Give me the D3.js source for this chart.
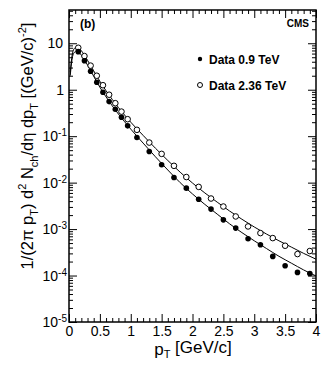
<!DOCTYPE html>
<html>
<head>
<meta charset="utf-8">
<script src="https://cdn.jsdelivr.net/npm/d3@7"></script>
<style>
  body { margin: 0; background: #fff; }
  svg { display: block; font-family: "Liberation Sans", Arial, sans-serif; }
  .axis path { display: none; }
  .axis line { stroke: #000; stroke-width: 1; }
  .axis text { fill: #000; font-size: 14px; }
</style>
</head>
<body>
<svg id="chart" width="322" height="365"></svg>
<script>
// measured points
const ptBins = [0.15, 0.25, 0.35, 0.45, 0.55, 0.65, 0.75, 0.85, 0.95,
  1.1, 1.3, 1.5, 1.7, 1.9, 2.1, 2.3, 2.5, 2.7, 2.9, 3.1, 3.3, 3.5, 3.7, 3.9];
const yield09 = [6.6, 4.2, 2.5, 1.45, 0.88, 0.555, 0.381, 0.256, 0.167,
  0.0933, 0.0467, 0.0242, 0.0129, 0.0076, 0.0044, 0.00269, 0.00158, 0.00105,
  0.000618, 0.000459, 0.000258, 0.000163, 0.000117, 0.000111];
const yield236 = [8.0, 5.3, 3.3, 2.0, 1.25, 0.78, 0.513, 0.338, 0.232,
  0.137, 0.0728, 0.0416, 0.0230, 0.0132, 0.0081, 0.00455, 0.00306, 0.00187,
  0.00114, 0.00082, 0.00064, 0.000438, 0.00029, 0.000337];

// fit curves
const fitPt = [0.02, 0.05, 0.08, 0.12, 0.15, 0.2, 0.3, 0.4, 0.5, 0.6, 0.7, 0.8, 0.9, 1.0,
  1.2, 1.4, 1.6, 1.8, 2.0, 2.2, 2.4, 2.6, 2.8, 3.0, 3.2, 3.4, 3.6, 3.8, 4.0];
const fit09 = [2.0, 4.6, 6.2, 6.8, 6.6, 5.5, 3.4, 1.95, 1.13, 0.70, 0.45, 0.30, 0.205, 0.142,
  0.071, 0.036, 0.0187, 0.0100, 0.0057, 0.0034, 0.0021, 0.0013, 0.00084, 0.00056,
  0.00038, 0.00026, 0.000185, 0.000132, 0.000098];
const fit236 = [2.4, 5.5, 7.5, 8.3, 8.1, 6.9, 4.3, 2.55, 1.52, 0.95, 0.62, 0.415, 0.285, 0.200,
  0.104, 0.055, 0.030, 0.0168, 0.0098, 0.0060, 0.0038, 0.00245, 0.00163, 0.00111,
  0.00078, 0.00056, 0.00041, 0.00030, 0.000225];

const xMajor = [0, 0.5, 1, 1.5, 2, 2.5, 3, 3.5, 4];
const xLabels = ["0", "0.5", "1", "1.5", "2", "2.5", "3", "3.5", "4"];
const yDecades = [1e-5, 1e-4, 1e-3, 1e-2, 1e-1, 1, 10];
const yExponents = [-5, -4, -3, -2, -1, 0, 1];
const legendLabels = ["Data 0.9 TeV", "Data 2.36 TeV"];

const plotL = 69, plotR = 316, plotT = 10, plotB = 322;

const svg = d3.select("#chart");

const x = d3.scaleLinear().domain([0, 4]).range([plotL, plotR]);
const y = d3.scaleLog().domain([1e-5, 52]).range([plotB, plotT]);

const xMinor = d3.range(0, 41).map(i => i / 10).filter(v => !xMajor.includes(v));
let yMinor = [];
yDecades.forEach(d => { for (let k = 2; k <= 9; k++) if (d * k <= 52) yMinor.push(d * k); });

// clip for the curves
svg.append("clipPath").attr("id", "clip")
  .append("rect").attr("x", plotL).attr("y", plotT)
  .attr("width", plotR - plotL).attr("height", plotB - plotT);

// x axes (bottom with labels, top ticks only)
svg.append("g").attr("class", "axis")
  .attr("transform", `translate(0,${plotB})`)
  .call(d3.axisBottom(x).tickValues(xMajor).tickSize(-8).tickPadding(4)
    .tickFormat((d, i) => xLabels[i]));
svg.append("g").attr("class", "axis")
  .attr("transform", `translate(0,${plotB})`)
  .call(d3.axisBottom(x).tickValues(xMinor).tickSize(-4).tickFormat(""));
svg.append("g").attr("class", "axis")
  .attr("transform", `translate(0,${plotT})`)
  .call(d3.axisTop(x).tickValues(xMajor).tickSize(-8).tickFormat(""));
svg.append("g").attr("class", "axis")
  .attr("transform", `translate(0,${plotT})`)
  .call(d3.axisTop(x).tickValues(xMinor).tickSize(-4).tickFormat(""));

// y axes
const yAxisG = svg.append("g").attr("class", "axis")
  .attr("transform", `translate(${plotL},0)`)
  .call(d3.axisLeft(y).tickValues(yDecades).tickSize(-8).tickPadding(6).tickFormat(""));
svg.append("g").attr("class", "axis")
  .attr("transform", `translate(${plotL},0)`)
  .call(d3.axisLeft(y).tickValues(yMinor).tickSize(-4).tickFormat(""));
svg.append("g").attr("class", "axis")
  .attr("transform", `translate(${plotR},0)`)
  .call(d3.axisRight(y).tickValues(yDecades).tickSize(-8).tickFormat(""));
svg.append("g").attr("class", "axis")
  .attr("transform", `translate(${plotR},0)`)
  .call(d3.axisRight(y).tickValues(yMinor).tickSize(-4).tickFormat(""));

// y tick labels as 10^n
yAxisG.selectAll(".tick text").each(function (d, i) {
  const e = yExponents[i];
  const t = d3.select(this);
  if (e === 0) { t.text("1").attr("x", -5); return; }
  if (e === 1) { t.text("10").attr("x", -6); return; }
  t.attr("x", -2);
  t.append("tspan").text("10");
  t.append("tspan").text(String(e)).attr("font-size", "10px").attr("dy", "-0.5em");
});

// frame
svg.append("rect")
  .attr("x", plotL).attr("y", plotT)
  .attr("width", plotR - plotL).attr("height", plotB - plotT)
  .attr("fill", "none").attr("stroke", "#000").attr("stroke-width", 1.5);

// fit lines
const line = d3.line()
  .x((d, i) => x(fitPt[i]))
  .y(d => y(d))
  .curve(d3.curveMonotoneX);

[fit09, fit236].forEach(f => {
  svg.append("path")
    .attr("clip-path", "url(#clip)")
    .attr("d", line(f))
    .attr("fill", "none")
    .attr("stroke", "#000")
    .attr("stroke-width", 1);
});

// markers
svg.append("g").selectAll("circle")
  .data(yield236).enter().append("circle")
  .attr("cx", (d, i) => x(ptBins[i]))
  .attr("cy", d => y(d))
  .attr("r", 2.8)
  .attr("fill", "#fff").attr("stroke", "#000").attr("stroke-width", 1);

svg.append("g").selectAll("circle")
  .data(yield09).enter().append("circle")
  .attr("cx", (d, i) => x(ptBins[i]))
  .attr("cy", d => y(d))
  .attr("r", 2.8)
  .attr("fill", "#000");

// legend
const legend = svg.append("g");
legendLabels.forEach((lab, i) => {
  const ly = 59 + i * 26;
  legend.append("circle")
    .attr("cx", 200).attr("cy", ly).attr("r", i === 0 ? 2.2 : 2.5)
    .attr("fill", i === 0 ? "#000" : "#fff")
    .attr("stroke", "#000").attr("stroke-width", i === 0 ? 0 : 1);
  legend.append("text")
    .attr("x", 209).attr("y", ly + 4.5)
    .attr("font-size", "12px").attr("font-weight", "bold")
    .text(lab);
});

svg.append("text").attr("x", 80).attr("y", 28)
  .attr("font-size", "12px").attr("font-weight", "bold").text("(b)");
svg.append("text").attr("x", 309).attr("y", 27).attr("text-anchor", "end")
  .attr("font-size", "10px").attr("font-weight", "bold").text("CMS");

// axis titles
const xt = svg.append("text")
  .attr("x", 193).attr("y", 355).attr("text-anchor", "middle")
  .attr("font-size", "17px");
xt.append("tspan").text("p");
xt.append("tspan").text("T").attr("font-size", "11px").attr("dy", "0.3em");
xt.append("tspan").text(" [GeV/c]").attr("dy", "-0.3em");

const yt = svg.append("text")
  .attr("transform", "translate(33,146) rotate(-90)")
  .attr("text-anchor", "middle")
  .attr("font-size", "16.5px");
const parts = [
  ["1/(2\u03c0 p", 0], ["T", 1], [") d", 0], ["2", -1], [" N", 0], ["ch", 1],
  ["/d\u03b7 dp", 0], ["T", 1], [" [(GeV/c)", 0], ["-2", -1], ["]", 0]
];
let shift = 0;
parts.forEach(([s, k]) => {
  const target = k === 1 ? 0.3 : (k === -1 ? -0.45 : 0);
  const sp = yt.append("tspan").text(s);
  if (k !== 0) sp.attr("font-size", "11px");
  const dy = (target - shift) * 16.5;
  if (dy !== 0) sp.attr("dy", dy.toFixed(2));
  shift = target;
});
</script>
</body>
</html>
